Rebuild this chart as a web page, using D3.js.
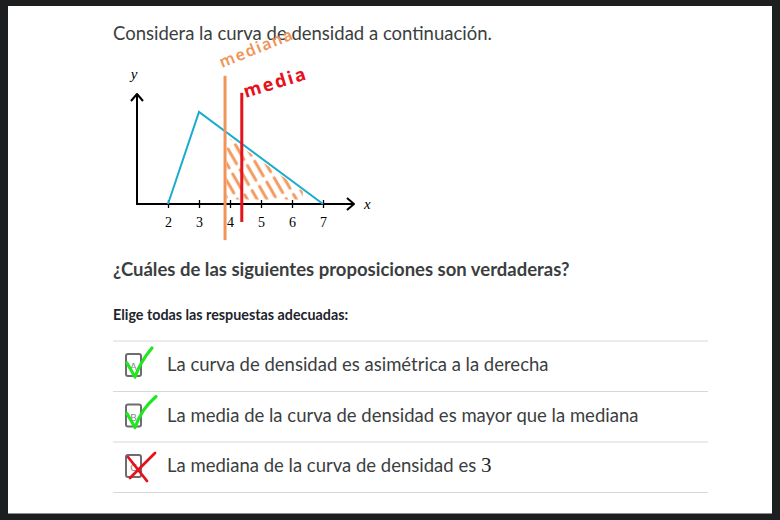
<!DOCTYPE html>
<html>
<head>
<meta charset="utf-8">
<script src="https://cdn.jsdelivr.net/npm/d3@7"></script>
<style>
  html, body { margin: 0; padding: 0; background: #1d1e20; }
  svg { display: block; }
</style>
</head>
<body>
<svg id="chart" width="780" height="520"></svg>
<script>
// ---- data ----
const curveX = [2, 3, 7];
const curveY = [0, 0.4, 0];
const tickValues = [2, 3, 4, 5, 6, 7];
const tickLabels = ["2", "3", "4", "5", "6", "7"];
const medianaX = 3.84;
const mediaX = 4.38;
const medianaSpan = [-0.157, 0.557];
const mediaSpan = [-0.078, 0.483];
const hatchEnd = 6.35;
const annotations = ["mediana", "media"];
const title = "Considera la curva de densidad a continuación.";
const question = "¿Cuáles de las siguientes proposiciones son verdaderas?";
const instruction = "Elige todas las respuestas adecuadas:";
const optionLetters = ["A", "B", "C"];
const optionTexts = [
  "La curva de densidad es asimétrica a la derecha",
  "La media de la curva de densidad es mayor que la mediana",
  "La mediana de la curva de densidad es "
];
const optionMath = ["", "", "3"];
const optionMarks = ["check", "check", "cross"];

// ---- layout ----
const svg = d3.select("#chart");
svg.append("rect").attr("x", 8).attr("y", 6).attr("width", 764).attr("height", 507).attr("fill", "#fff");
svg.append("line").attr("x1", 8).attr("x2", 772).attr("y1", 513.5).attr("y2", 513.5).attr("stroke", "#8a8c90").attr("stroke-width", 1);

const textColor = "#21242c";
const sans = "Lato, 'Open Sans', sans-serif";
const serif = "'Liberation Serif', 'DejaVu Serif', serif";

svg.append("text").attr("x", 113).attr("y", 40).attr("font-family", sans).attr("font-size", 18.5)
  .attr("fill", "#3b3e40").text(title);

// ---- chart ----
const x = d3.scaleLinear().domain([1, 8]).range([137, 354]);
const y = d3.scaleLinear().domain([0, 0.478]).range([204, 94]);

const g = svg.append("g");
const defs = svg.append("defs");

// hatch pattern
const pat = defs.append("pattern").attr("id", "hatch").attr("patternUnits", "userSpaceOnUse")
  .attr("width", 8.5).attr("height", 24).attr("patternTransform", "rotate(-30)");
pat.append("line").attr("x1", 4).attr("x2", 4).attr("y1", 3).attr("y2", 20)
  .attr("stroke", "#f39a60").attr("stroke-width", 3).attr("stroke-linecap", "round");

const f = v => v <= 3 ? 0.4 * (v - 2) : 0.1 * (7 - v);
const hatchPts = [[medianaX + 0.05, 0.02], [medianaX + 0.05, f(medianaX) - 0.02],
  [hatchEnd, f(hatchEnd) - 0.01], [hatchEnd, 0.02]];
defs.append("clipPath").attr("id", "hclip").append("polygon")
  .attr("points", hatchPts.map(p => [x(p[0]), y(p[1])].join(",")).join(" "));
g.append("rect").attr("x", x(medianaX)).attr("y", y(0.3)).attr("width", x(hatchEnd) - x(medianaX))
  .attr("height", y(0) - y(0.3)).attr("fill", "url(#hatch)").attr("clip-path", "url(#hclip)");

// axes
const xAxis = d3.axisBottom(x).tickValues(tickValues).tickFormat((d, i) => tickLabels[i])
  .tickSizeInner(4).tickSizeOuter(0);
const ax = g.append("g").attr("transform", `translate(0,${y(0)})`).call(xAxis);
ax.select(".domain").remove();
ax.selectAll(".tick line").attr("y1", -4).attr("y2", 4).attr("stroke", "#000").attr("stroke-width", 1.3);
ax.selectAll(".tick text").attr("y", 13).attr("font-family", serif).attr("font-size", 14).attr("fill", "#000");

g.append("line").attr("x1", x(1)).attr("x2", x(8) - 1).attr("y1", y(0)).attr("y2", y(0))
  .attr("stroke", "#000").attr("stroke-width", 2);
g.append("line").attr("x1", x(1)).attr("x2", x(1)).attr("y1", y(0) + 1).attr("y2", y(0.478) + 1)
  .attr("stroke", "#000").attr("stroke-width", 2);
// arrowheads
g.append("path").attr("d", `M${x(8) - 7},${y(0) - 6} L${x(8)},${y(0)} L${x(8) - 7},${y(0) + 6}`)
  .attr("fill", "none").attr("stroke", "#000").attr("stroke-width", 2).attr("stroke-linejoin", "round");
g.append("path").attr("d", `M${x(1) - 6},${y(0.478) + 7} L${x(1)},${y(0.478)} L${x(1) + 6},${y(0.478) + 7}`)
  .attr("fill", "none").attr("stroke", "#000").attr("stroke-width", 2).attr("stroke-linejoin", "round");
g.append("text").attr("x", x(8) + 10).attr("y", y(0) + 5).attr("font-family", serif).attr("font-style", "italic")
  .attr("font-size", 15).attr("fill", "#000").text("x");
g.append("text").attr("x", x(1) - 3).attr("y", 79).attr("text-anchor", "middle").attr("font-family", serif)
  .attr("font-style", "italic").attr("font-size", 15).attr("fill", "#000").text("y");

// density curve
const line = d3.line().x(d => x(d[0])).y(d => y(d[1]));
g.append("path").datum(curveX.map((v, i) => [v, curveY[i]])).attr("d", line)
  .attr("fill", "none").attr("stroke", "#1aaccf").attr("stroke-width", 2);

// annotation lines
g.append("line").attr("x1", x(medianaX)).attr("x2", x(medianaX))
  .attr("y1", y(medianaSpan[0])).attr("y2", y(medianaSpan[1]))
  .attr("stroke", "#f0955a").attr("stroke-width", 3);
g.append("line").attr("x1", x(mediaX)).attr("x2", x(mediaX))
  .attr("y1", y(mediaSpan[0])).attr("y2", y(mediaSpan[1]))
  .attr("stroke", "#e5121c").attr("stroke-width", 3);

// handwritten labels
g.append("text").attr("transform", `translate(${x(medianaX) - 3},68) rotate(-22)`)
  .attr("font-family", "'Noto Sans', sans-serif").attr("font-size", 16).attr("font-weight", 600)
  .attr("letter-spacing", 1.5).attr("fill", "#f0955a").text(annotations[0]);
g.append("text").attr("transform", `translate(${x(mediaX) + 4},98) rotate(-17)`)
  .attr("font-family", "'Noto Sans', sans-serif").attr("font-size", 18).attr("font-weight", 700)
  .attr("letter-spacing", 2).attr("fill", "#e5121c").text(annotations[1]);

// ---- question ----
svg.append("text").attr("x", 113).attr("y", 276).attr("font-family", sans).attr("font-weight", 700)
  .attr("font-size", 18.5).attr("fill", "#3b3e40").text(question);
svg.append("text").attr("x", 113).attr("y", 320).attr("font-family", sans).attr("font-weight", 700)
  .attr("font-size", 14.3).attr("fill", textColor).text(instruction);

// rows
const rowTop = 341, rowH = 50.5;
svg.append("line").attr("x1", 113).attr("x2", 708).attr("y1", rowTop).attr("y2", rowTop)
  .attr("stroke", "#d6d8da").attr("stroke-width", 1);
optionTexts.forEach((t, i) => {
  const top = rowTop + i * rowH;
  svg.append("line").attr("x1", 113).attr("x2", 708).attr("y1", top + rowH).attr("y2", top + rowH)
    .attr("stroke", "#d6d8da").attr("stroke-width", 1);
  svg.append("rect").attr("x", 126).attr("y", top + 13).attr("width", 15).attr("height", 22).attr("rx", 2)
    .attr("fill", "#fff").attr("stroke", "#6b6d70").attr("stroke-width", 2);
  svg.append("text").attr("x", 133.5).attr("y", top + 29).attr("text-anchor", "middle")
    .attr("font-family", sans).attr("font-size", 10).attr("fill", "#888").text(optionLetters[i]);
  const tx = svg.append("text").attr("x", 167).attr("y", top + 30).attr("font-family", sans)
    .attr("font-size", 18.5).attr("fill", "#3b3e40").text(t);
  if (optionMath[i]) {
    tx.append("tspan").attr("font-family", serif).attr("font-size", 21).attr("fill", textColor).text(optionMath[i]);
  }
  if (optionMarks[i] === "check") {
    svg.append("path")
      .attr("d", `M127,${top + 22} L135,${top + 36} C140,${top + 22} 146,${top + 14} ${152 + i * 4},${top + 7 - i * 2}`)
      .attr("fill", "none").attr("stroke", "#22e622").attr("stroke-width", 3.2)
      .attr("stroke-linecap", "round").attr("stroke-linejoin", "round");
  } else {
    svg.append("path").attr("d", `M128,${top + 15} L147,${top + 39} M155,${top + 11} L130,${top + 36}`)
      .attr("fill", "none").attr("stroke", "#e5121c").attr("stroke-width", 2.8).attr("stroke-linecap", "round");
  }
});
</script>
</body>
</html>
